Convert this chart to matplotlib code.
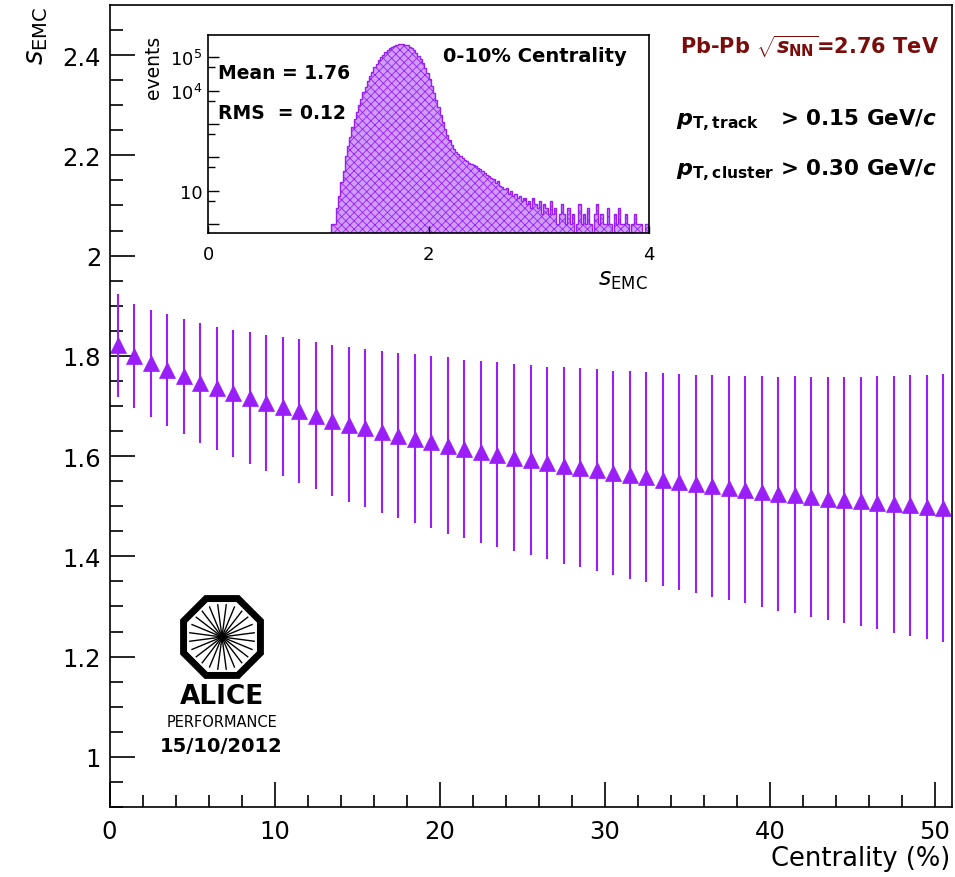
import matplotlib
matplotlib.use('Agg')
import matplotlib.pyplot as plt
from matplotlib.patches import Polygon
import numpy as np

# --- fonts ---
plt.rcParams['font.family'] = ['DejaVu Sans']
plt.rcParams['mathtext.fontset'] = 'custom'
plt.rcParams['mathtext.rm'] = 'DejaVu Sans'
plt.rcParams['mathtext.it'] = 'DejaVu Sans:italic'
plt.rcParams['mathtext.bf'] = 'DejaVu Sans:bold'
plt.rcParams['mathtext.bfit'] = 'DejaVu Sans:italic:bold'
plt.rcParams['hatch.linewidth'] = 0.6

PURPLE = '#9a1ef8'
DARKRED = '#7a0c0c'

# --- main data: s_EMC vs centrality (bin centres 0.5 ... 50.5) ---
centrality = np.arange(0.5, 51, 1.0)
s_emc = [1.821, 1.800, 1.785, 1.772, 1.759, 1.746, 1.735, 1.725, 1.716, 1.706,
         1.699, 1.690, 1.681, 1.671, 1.663, 1.656, 1.648, 1.641, 1.635, 1.628,
         1.621, 1.614, 1.608, 1.603, 1.597, 1.592, 1.586, 1.581, 1.577, 1.572,
         1.566, 1.562, 1.558, 1.553, 1.548, 1.544, 1.540, 1.536, 1.533, 1.529,
         1.525, 1.523, 1.519, 1.515, 1.512, 1.510, 1.507, 1.504, 1.502, 1.498,
         1.496]
s_err = [0.103, 0.103, 0.107, 0.111, 0.115, 0.119, 0.123, 0.127, 0.131, 0.136,
         0.139, 0.143, 0.147, 0.150, 0.155, 0.158, 0.162, 0.165, 0.169, 0.172,
         0.176, 0.178, 0.181, 0.184, 0.187, 0.190, 0.192, 0.196, 0.199, 0.202,
         0.204, 0.208, 0.210, 0.213, 0.216, 0.218, 0.221, 0.223, 0.227, 0.230,
         0.233, 0.236, 0.239, 0.242, 0.245, 0.248, 0.252, 0.256, 0.260, 0.263,
         0.267]

# --- inset: s_EMC distribution for 0-10% (bins of 0.02 starting at 1.10) ---
hist_start = 1.10
hist_width = 0.02
hist_counts = [
    0, 1, 1, 3, 7, 18, 40, 110, 220, 420,
    800, 1400, 2300, 3700, 5800, 9000, 13000, 19000, 27000, 37000,
    50000, 65000, 82000, 100000, 120000, 142000, 165000, 185000, 205000, 222000,
    235000, 245000, 250000, 250000, 243000, 230000, 212000, 190000, 165000, 138000,
    112000, 88000, 66000, 48000, 33000, 22000, 14000, 8800, 5400, 3200,
    1900, 1150, 720, 480, 330, 240, 185, 150, 125, 108,
    95, 84, 76, 70, 64, 58, 55, 48, 44, 40,
    33, 29, 27, 24, 22, 17, 19, 14, 13, 11,
    12, 8, 10, 7, 8, 6, 7, 5, 6, 4,
    5, 3, 6, 4, 3, 5, 2, 4, 3, 2,
    5, 2, 3, 1, 2, 4, 2, 1, 3, 1,
    2, 0, 1, 4, 1, 2, 1, 3, 1, 0,
    2, 4, 1, 2, 1, 1, 3, 1, 0, 2,
    1, 3, 1, 1, 2, 1, 0, 1, 2, 1,
    1, 1, 0, 1, 1]

fig = plt.figure(figsize=(9.55, 8.78), dpi=100)
W, H = 955.0, 878.0

# --- main axes ---
ax = fig.add_axes([109.5 / W, 1 - 808 / H, 842 / W, 802 / H])
ax.errorbar(centrality, s_emc, yerr=s_err, fmt='^', color=PURPLE, ms=11,
            elinewidth=1.5, capsize=0, mec=PURPLE, mew=0.5)
ax.set_xlim(0, 51)
ax.set_ylim(0.9, 2.5)
ax.set_xticks([0, 10, 20, 30, 40, 50])
ax.set_xticks(np.arange(0, 51, 2), minor=True)
ax.set_yticks([1.0, 1.2, 1.4, 1.6, 1.8, 2.0, 2.2, 2.4])
ax.set_yticklabels(['1', '1.2', '1.4', '1.6', '1.8', '2', '2.2', '2.4'])
ax.set_yticks(np.arange(0.9, 2.5, 0.05), minor=True)
ax.tick_params(which='both', direction='in', width=1.2, labelsize=17.5,
               top=False, right=False)
ax.tick_params(axis='x', which='major', length=18, pad=9)
ax.tick_params(axis='x', which='minor', length=9)
ax.tick_params(axis='y', which='major', length=18, pad=6)
ax.tick_params(axis='y', which='minor', length=9)
for sp in ax.spines.values():
    sp.set_linewidth(1.2)

fig.text(950 / W, 1 - 859 / H, 'Centrality (%)', ha='right', va='center',
         fontsize=18.5)
fig.text(36 / W, 1 - 7 / H, r'$s_{\mathrm{EMC}}$', rotation=90, ha='center',
         va='top', fontsize=20)

# text block on the right
fig.text(680 / W, 1 - 47 / H,
         r'Pb-Pb $\sqrt{\mathbfit{s}_{\mathbf{NN}}}$=2.76 TeV',
         color=DARKRED, fontsize=15, fontweight='bold', ha='left', va='center')
fig.text(676 / W, 1 - 122 / H, r'$\mathbfit{p}_{\mathbf{T,track}}$',
         fontsize=16, ha='left', va='center')
fig.text(780 / W, 1 - 118 / H, r'> 0.15 GeV/$\mathbfit{c}$',
         fontsize=15.5, fontweight='bold', ha='left', va='center')
fig.text(676 / W, 1 - 172 / H, r'$\mathbfit{p}_{\mathbf{T,cluster}}$',
         fontsize=16, ha='left', va='center')
fig.text(780 / W, 1 - 168 / H, r'> 0.30 GeV/$\mathbfit{c}$',
         fontsize=15.5, fontweight='bold', ha='left', va='center')

# --- ALICE logo ---
lax = fig.add_axes([170 / W, 1 - 690 / H, 104 / W, 104 / H])
lax.set_xlim(-1.25, 1.25)
lax.set_ylim(-1.25, 1.25)
lax.set_aspect('equal')
lax.axis('off')
ang = np.deg2rad(22.5 + 45 * np.arange(8))
octagon = Polygon(np.column_stack([np.cos(ang), np.sin(ang)]), closed=True,
                  fill=False, edgecolor='black', lw=5, joinstyle='miter')
lax.add_patch(octagon)
for a in np.deg2rad(np.arange(0, 360, 15) + 7.5):
    lax.plot([0, 0.78 * np.cos(a)], [0, 0.78 * np.sin(a)], color='black', lw=1.0)
fig.text(222 / W, 1 - 697 / H, 'ALICE', ha='center', va='center',
         fontsize=19, fontweight='bold')
fig.text(222 / W, 1 - 723 / H, 'PERFORMANCE', ha='center', va='center',
         fontsize=10.5)
fig.text(221 / W, 1 - 746 / H, '15/10/2012', ha='center', va='center',
         fontsize=14, fontweight='bold')

# --- inset histogram ---
iax = fig.add_axes([208 / W, 1 - 234 / H, 441 / W, 198 / H])
edges = hist_start + hist_width * np.arange(len(hist_counts) + 1)
counts = np.array(hist_counts, dtype=float)
iax.bar(edges[:-1], np.where(counts > 0, counts, np.nan), width=hist_width,
        align='edge', color='#d09cff', edgecolor=PURPLE, hatch='xxxx',
        linewidth=0, log=True)
iax.stairs(np.where(counts > 0, counts, 0.54), edges, color=PURPLE, lw=1.0,
           baseline=None)
iax.set_yscale('log')
iax.set_xlim(0, 4)
iax.set_ylim(0.54, 4.7e5)
iax.set_xticks([0, 2, 4])
iax.set_xticklabels(['0', '2', '4'])
iax.set_yticks([1, 10, 100, 1000, 1e4, 1e5])
iax.set_yticklabels(['', '10', '', '', r'$10^4$', r'$10^5$'])
iax.set_yticks([5, 50, 500, 5000, 5e4], minor=True)
iax.yaxis.set_minor_formatter(matplotlib.ticker.NullFormatter())
iax.tick_params(which='both', direction='in', width=1.0, labelsize=13,
                top=False, right=False)
iax.tick_params(axis='x', which='major', length=5, pad=9)
iax.tick_params(axis='x', which='minor', length=0)
iax.tick_params(axis='y', which='major', length=8, pad=4)
iax.tick_params(axis='y', which='minor', length=5)
for sp in iax.spines.values():
    sp.set_linewidth(1.2)

fig.text(153 / W, 1 - 36 / H, 'events', rotation=90, ha='center', va='top',
         fontsize=13.5)
fig.text(648 / W, 1 - 280 / H, r'$s_{\mathrm{EMC}}$', ha='right', va='center',
         fontsize=17)
iax.text(10 / 441, 1 - 37 / 198, 'Mean = 1.76', transform=iax.transAxes,
         fontsize=13.5, fontweight='bold', ha='left', va='center')
iax.text(10 / 441, 1 - 77 / 198, 'RMS  = 0.12', transform=iax.transAxes,
         fontsize=13.5, fontweight='bold', ha='left', va='center')
iax.text(327 / 441, 1 - 20 / 198, '0-10% Centrality', transform=iax.transAxes,
         fontsize=14, fontweight='bold', ha='center', va='center')

fig.savefig('out.png', dpi=100)
